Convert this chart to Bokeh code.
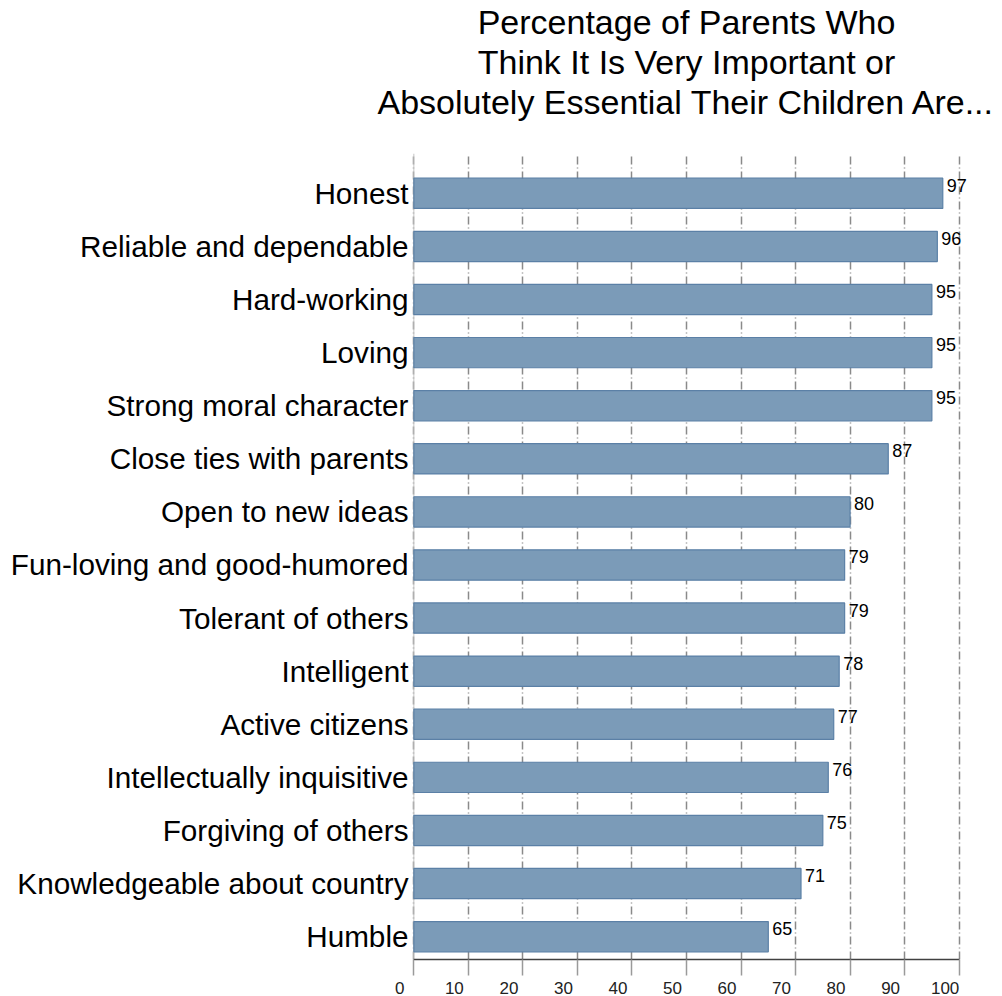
from bokeh.plotting import figure
from bokeh.models import Range1d, FixedTicker, ColumnDataSource, LabelSet, Title, LinearAxis, Span
from bokeh.embed import file_html
from bokeh.resources import INLINE
from bokeh.core.properties import value

categories = ["Honest", "Reliable and dependable", "Hard-working", "Loving",
              "Strong moral character", "Close ties with parents", "Open to new ideas",
              "Fun-loving and good-humored", "Tolerant of others", "Intelligent",
              "Active citizens", "Intellectually inquisitive", "Forgiving of others",
              "Knowledgeable about country", "Humble"]
values = [97, 96, 95, 95, 95, 87, 80, 79, 79, 78, 77, 76, 75, 71, 65]
x_ticks = [0, 10, 20, 30, 40, 50, 60, 70, 80, 90, 100]
title_lines = ["Percentage of Parents Who",
               "Think It Is Very Important or",
               "Absolutely Essential Their Children Are..."]

n = len(categories)
ypos = [n - 1 - i for i in range(n)]
labels = [str(v) for v in values]
src = ColumnDataSource(dict(y=ypos, v=values, lab=labels, cat=categories))

FONT = "Liberation Sans"
x_lo, x_hi = -3, 103          # frame slightly wider than the 0-100 scale
lab_shift = 2.57              # tick labels sit a little left of their ticks
y_start = -0.43

p = figure(width=1002, height=996, output_backend="svg", toolbar_location=None,
           x_range=Range1d(x_lo, x_hi), y_range=Range1d(y_start, n - 1 + 0.75),
           min_border_left=397, min_border_right=27, min_border_top=0,
           min_border_bottom=34, title=None)
p.extra_x_ranges = {"lab": Range1d(x_lo + lab_shift, x_hi + lab_shift)}

# spacer between title and frame, then the three centred title lines
p.add_layout(Title(text=" ", text_font=FONT, text_font_size="28px", standoff=0), "above")
for line in reversed(title_lines):
    p.add_layout(Title(text=line, align="center", text_font=FONT, text_font_size="34px",
                       text_font_style="normal", text_color="#000000", standoff=0), "above")

p.outline_line_color = None
p.background_fill_color = "white"
p.border_fill_color = "white"

p.add_layout(Span(location=0, dimension="height", line_color="#c4c4c4", line_width=1,
                  level="underlay"))

p.hbar(y="y", right="v", left=0, height=0.57, source=src,
       fill_color="#7b9bb8", line_color="#5b80a6", line_width=1.2)

p.add_layout(LabelSet(x="v", y="y", text="lab", source=src, x_offset=4, y_offset=8,
                      text_font=value(FONT), text_font_size="18px", text_color="#000000",
                      text_baseline="middle", text_align="left"))

# x axis (line + ticks)
p.xaxis.ticker = FixedTicker(ticks=x_ticks)
p.xaxis.bounds = (0, 100)
p.xaxis.axis_line_color = "#404040"
p.xaxis.axis_line_width = 1.5
p.xaxis.major_tick_out = 16
p.xaxis.major_tick_in = 0
p.xaxis.major_tick_line_color = "#9a9a9a"
p.xaxis.major_tick_line_width = 1.5
p.xaxis.minor_tick_line_color = None
p.xaxis.major_label_overrides = {t: "" for t in x_ticks}
p.xaxis.major_label_standoff = 0

# x tick labels
lab_axis = LinearAxis(x_range_name="lab", ticker=FixedTicker(ticks=x_ticks),
                      axis_line_color=None, major_tick_line_color=None,
                      minor_tick_line_color=None, major_label_standoff=0,
                      major_label_text_font=FONT, major_label_text_font_size="17px",
                      major_label_text_color="#222222")
p.add_layout(lab_axis, "below")

# y axis (category labels end just left of x = 0)
p.yaxis.ticker = FixedTicker(ticks=ypos)
p.yaxis.major_label_overrides = {y: c for y, c in zip(ypos, categories)}
p.yaxis.axis_line_color = None
p.yaxis.major_tick_line_color = None
p.yaxis.minor_tick_line_color = None
p.yaxis.major_label_text_font = FONT
p.yaxis.major_label_text_font_size = "29.7px"
p.yaxis.major_label_text_color = "#000000"
p.yaxis.major_label_standoff = -17

# grid
p.ygrid.grid_line_color = None
p.xgrid.ticker = FixedTicker(ticks=x_ticks)
p.xgrid.grid_line_color = "#8a8a8a"
p.xgrid.grid_line_width = 1.5
p.xgrid.grid_line_dash = "8 3 1 3"

open("out.html", "w").write(file_html(p, INLINE))
